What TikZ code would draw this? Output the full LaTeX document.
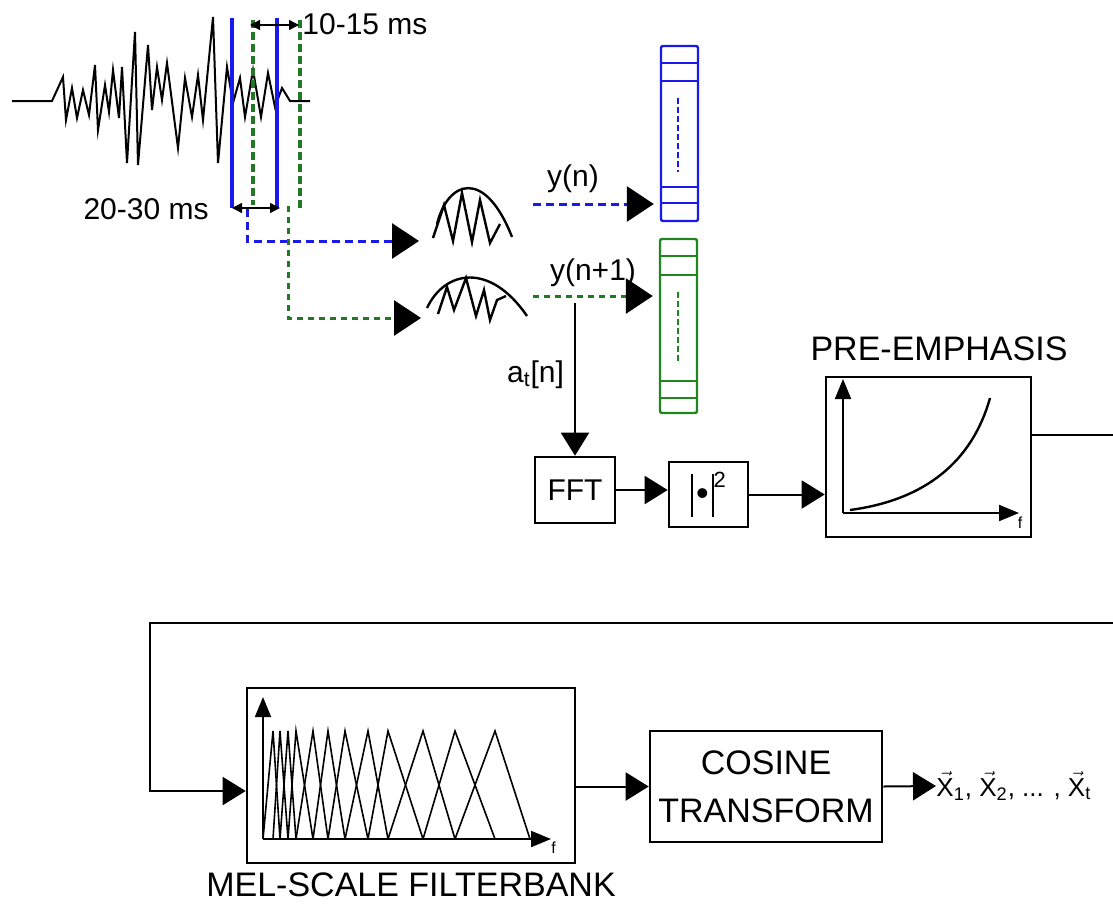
\documentclass[tikz,border=0pt]{standalone}
\usepackage{fontspec}
\setmainfont{Liberation Sans}
\usepackage{amsmath}
\usetikzlibrary{arrows.meta}

\definecolor{frameblue}{RGB}{25,25,235}
\definecolor{framegreen}{RGB}{30,135,30}
\definecolor{dashgreen}{RGB}{35,120,35}

\newcommand{\titlefont}{\fontsize{17}{24}\selectfont}
\newcommand{\lblfont}{\fontsize{15}{18}\selectfont}
\newcommand{\xv}[1]{$\vec{\text{X}}$\textsubscript{#1}}
\newcommand{\absbar}{\rule[-6pt]{0.8pt}{21.5pt}}

\tikzset{
  wave/.style={line width=1pt, line join=miter},
  winblue/.style={frameblue, line width=1.6pt},
  wingreen/.style={dashgreen, line width=1.6pt, dash pattern=on 4pt off 2pt},
  bluedash/.style={frameblue, line width=1.5pt, dash pattern=on 4pt off 2.5pt},
  greendash/.style={dashgreen, line width=1.5pt, dash pattern=on 3pt off 2.5pt},
  bigarrow/.style={-{Triangle[length=13.5pt,width=17.5pt,color=black]}},
  flowarrow/.style={line width=1pt, -{Triangle[length=11.5pt,width=14pt]}},
  dimarrow/.style={black, line width=0.7pt, {Triangle[length=5pt,width=5pt]}-{Triangle[length=5pt,width=5pt]}},
  axisarrow/.style={line width=1pt, -{Triangle[length=10pt,width=8pt]}},
  framebox/.style={draw, line width=1.2pt, rounded corners=1pt, minimum width=18.5pt, minimum height=87.5pt, inner sep=0pt},
  blockbox/.style={draw, line width=1.3pt, inner sep=0pt},
  lbl/.style={font=\lblfont, inner sep=0pt},
  pulse/.style={line width=1.2pt, line join=miter},
}

\begin{document}
\begin{tikzpicture}[x=0.5pt, y=-0.5pt]
    \useasboundingbox (0,0) rectangle (1113,905);
    % speech signal
    \draw[wave] (12,101) -- (52,101) -- (63,77) -- (66,120) -- (72,88) -- (77,118) -- (83,90)
        -- (89,115) -- (95,65) -- (98,130) -- (105,85) -- (109,112) -- (113,70) -- (119,118)
        -- (122,67) -- (127,163) -- (135,32) -- (138,165) -- (148,45) -- (152,110) -- (157,67)
        -- (162,100) -- (167,63) -- (178,148) -- (185,78) -- (192,117) -- (198,75) -- (203,120)
        -- (213,17) -- (218,163) -- (227,67) -- (233,103) -- (240,78) -- (245,117) -- (253,70)
        -- (261,117) -- (268,73) -- (275,107) -- (282,88) -- (290,101) -- (310,101);
    % analysis windows
        \draw[winblue] (232,18) -- (232,208);
        \draw[winblue] (277,18) -- (277,208);
        \draw[wingreen] (253,20) -- (253,205);
        \draw[wingreen] (300,20) -- (300,208);
        \draw[dimarrow] (250,25) -- (299,25);
        \draw[dimarrow] (232,208) -- (280,208);
        \node[lbl, anchor=west] (shiftlbl) at (302,24) {10-15 ms};
        \node[lbl, anchor=east] (lenlbl) at (209,209) {20-30 ms};
    % windowed frames
        \coordinate (blueout) at (247,209);
        \coordinate (greenout) at (288,206);
        \coordinate (winA) at (419,241);
        \coordinate (winB) at (421,318);
        \draw[bluedash, bigarrow] (blueout) |- (winA);
        \draw[greendash, bigarrow] (greenout) |- (winB);
        \draw[pulse] (437,224) .. controls (448,180) and (485,168) .. (512,237);
        \draw[pulse] (433,238) -- (444,205) -- (453,241) -- (462,193) -- (472,242)
            -- (480,200) -- (490,243) -- (500,224);
        \draw[pulse] (427,308) .. controls (445,270) and (490,262) .. (527,316);
        \draw[pulse] (438,314) -- (447,287) -- (454,310) -- (466,278) -- (476,316)
            -- (484,290) -- (490,320) -- (497,300) -- (506,296);
    % feature vectors
        \node[framebox, draw=frameblue] (frameA) at (679.5,133.5) {};
        \node[framebox, draw=framegreen, minimum height=87pt] (frameB) at (678.5,326) {};
        \foreach \yy in {63,81,187,203}
            \draw[frameblue, line width=1.2pt] (frameA.west |- 0,\yy) -- (frameA.east |- 0,\yy);
        \foreach \yy in {256,275,381,398}
            \draw[framegreen, line width=1.2pt] (frameB.west |- 0,\yy) -- (frameB.east |- 0,\yy);
        \draw[frameblue, line width=1pt, dash pattern=on 3pt off 1.5pt] (678,98) -- (678,172);
        \draw[framegreen, line width=1pt, dash pattern=on 3pt off 1.5pt] (678,292) -- (678,363);
        \coordinate (ynA) at (533,204);
        \coordinate (ynB) at (533,296);
        \draw[bluedash, bigarrow] (ynA) -- ([xshift=-3pt]frameA.west |- ynA);
        \draw[greendash, bigarrow] (ynB) -- ([xshift=-3pt]frameB.west |- ynB);
        \node[lbl] (ynlbl) at (573,179) {y(n)};
        \node[lbl] (ynnlbl) at (593,273) {y(n+1)};
    % processing chain
        \node[blockbox, minimum width=40pt, minimum height=33pt, font=\lblfont] (fft) at (575,490) {FFT};
        \node[blockbox, minimum width=39.5pt, minimum height=32.5pt] (absq) at (708.5,494.5)
            {\absbar\,{\fontsize{18}{18}\selectfont •}\,\absbar\raisebox{9pt}{\fontsize{11}{11}\selectfont 2}};
        \node[blockbox, minimum width=102.5pt, minimum height=80pt] (preemph) at (928.5,457) {};
        \node[font=\titlefont, inner sep=0pt] (prelbl) at (939,349) {PRE-EMPHASIS};
        \coordinate (atap) at (575,303);
        \draw[flowarrow] (atap) -- (fft.north) node[pos=0.47, left=5pt, lbl] (atlbl) {a\textsubscript{t}[n]};
        \draw[flowarrow] (fft.east) -- (fft.east -| absq.west);
        \draw[flowarrow] (absq.east) -- (absq.east -| preemph.west);
    % pre-emphasis curve
        \coordinate (preorig) at (843,513);
        \node[inner sep=0pt, font=\fontsize{8}{8}\selectfont, anchor=north] (prefl) at (1020,517) {f};
        \draw[axisarrow] (preorig) -- (843,379);
        \draw[axisarrow] (preorig) -- (1019,513);
        \draw[line width=1.2pt] (850,510) .. controls (925,500) and (972,462) .. (990,398);
    % loop back to the filterbank
        \coordinate (edgeA) at (1113,435);
        \coordinate (edgeB) at (1113,623);
        \draw[line width=1pt] (preemph.east |- edgeA) -- (edgeA);
        \node[blockbox, minimum width=164pt, minimum height=87.5pt] (melbank) at (411,775.5) {};
        \node[font=\titlefont, inner sep=0pt] (mellbl) at (411,885) {MEL-SCALE FILTERBANK};
        \draw[flowarrow] (edgeB) -| (150,791) -- (melbank.west |- 150,791);
    % filterbank triangles
        \coordinate (melorig) at (263,839);
        \foreach \a/\b/\c in {263/273/280, 273/280/288, 280/288/296, 288/296/313, 296/313/328,
            313/328/345, 328/345/368, 345/368/388, 368/388/423, 388/423/455, 423/455/495, 455/495/530}
            \draw[line width=0.8pt] (\a,839) -- (\b,731) -- (\c,839);
        \draw[axisarrow, line width=0.8pt] (melorig) -- (263,697);
        \draw[axisarrow, line width=1pt] (melorig) -- (551,839);
        \node[inner sep=0pt, font=\fontsize{8}{8}\selectfont, anchor=north west] (melfl) at (551,842) {f};
    % cosine transform and output
        \node[blockbox, minimum width=116pt, minimum height=55.5pt, align=center, font=\titlefont]
            (cosine) at (766,786.5) {COSINE\\TRANSFORM};
        \draw[flowarrow] (melbank.east |- cosine.west) -- (cosine.west);
        \node[inner sep=0pt, anchor=west, font=\fontsize{13}{15}\selectfont] (outvec) at (936,786)
            {\xv{1}, \xv{2}, ... , \xv{t}};
        \draw[flowarrow] (cosine.east) -- (outvec.west);
\end{tikzpicture}
\end{document}
